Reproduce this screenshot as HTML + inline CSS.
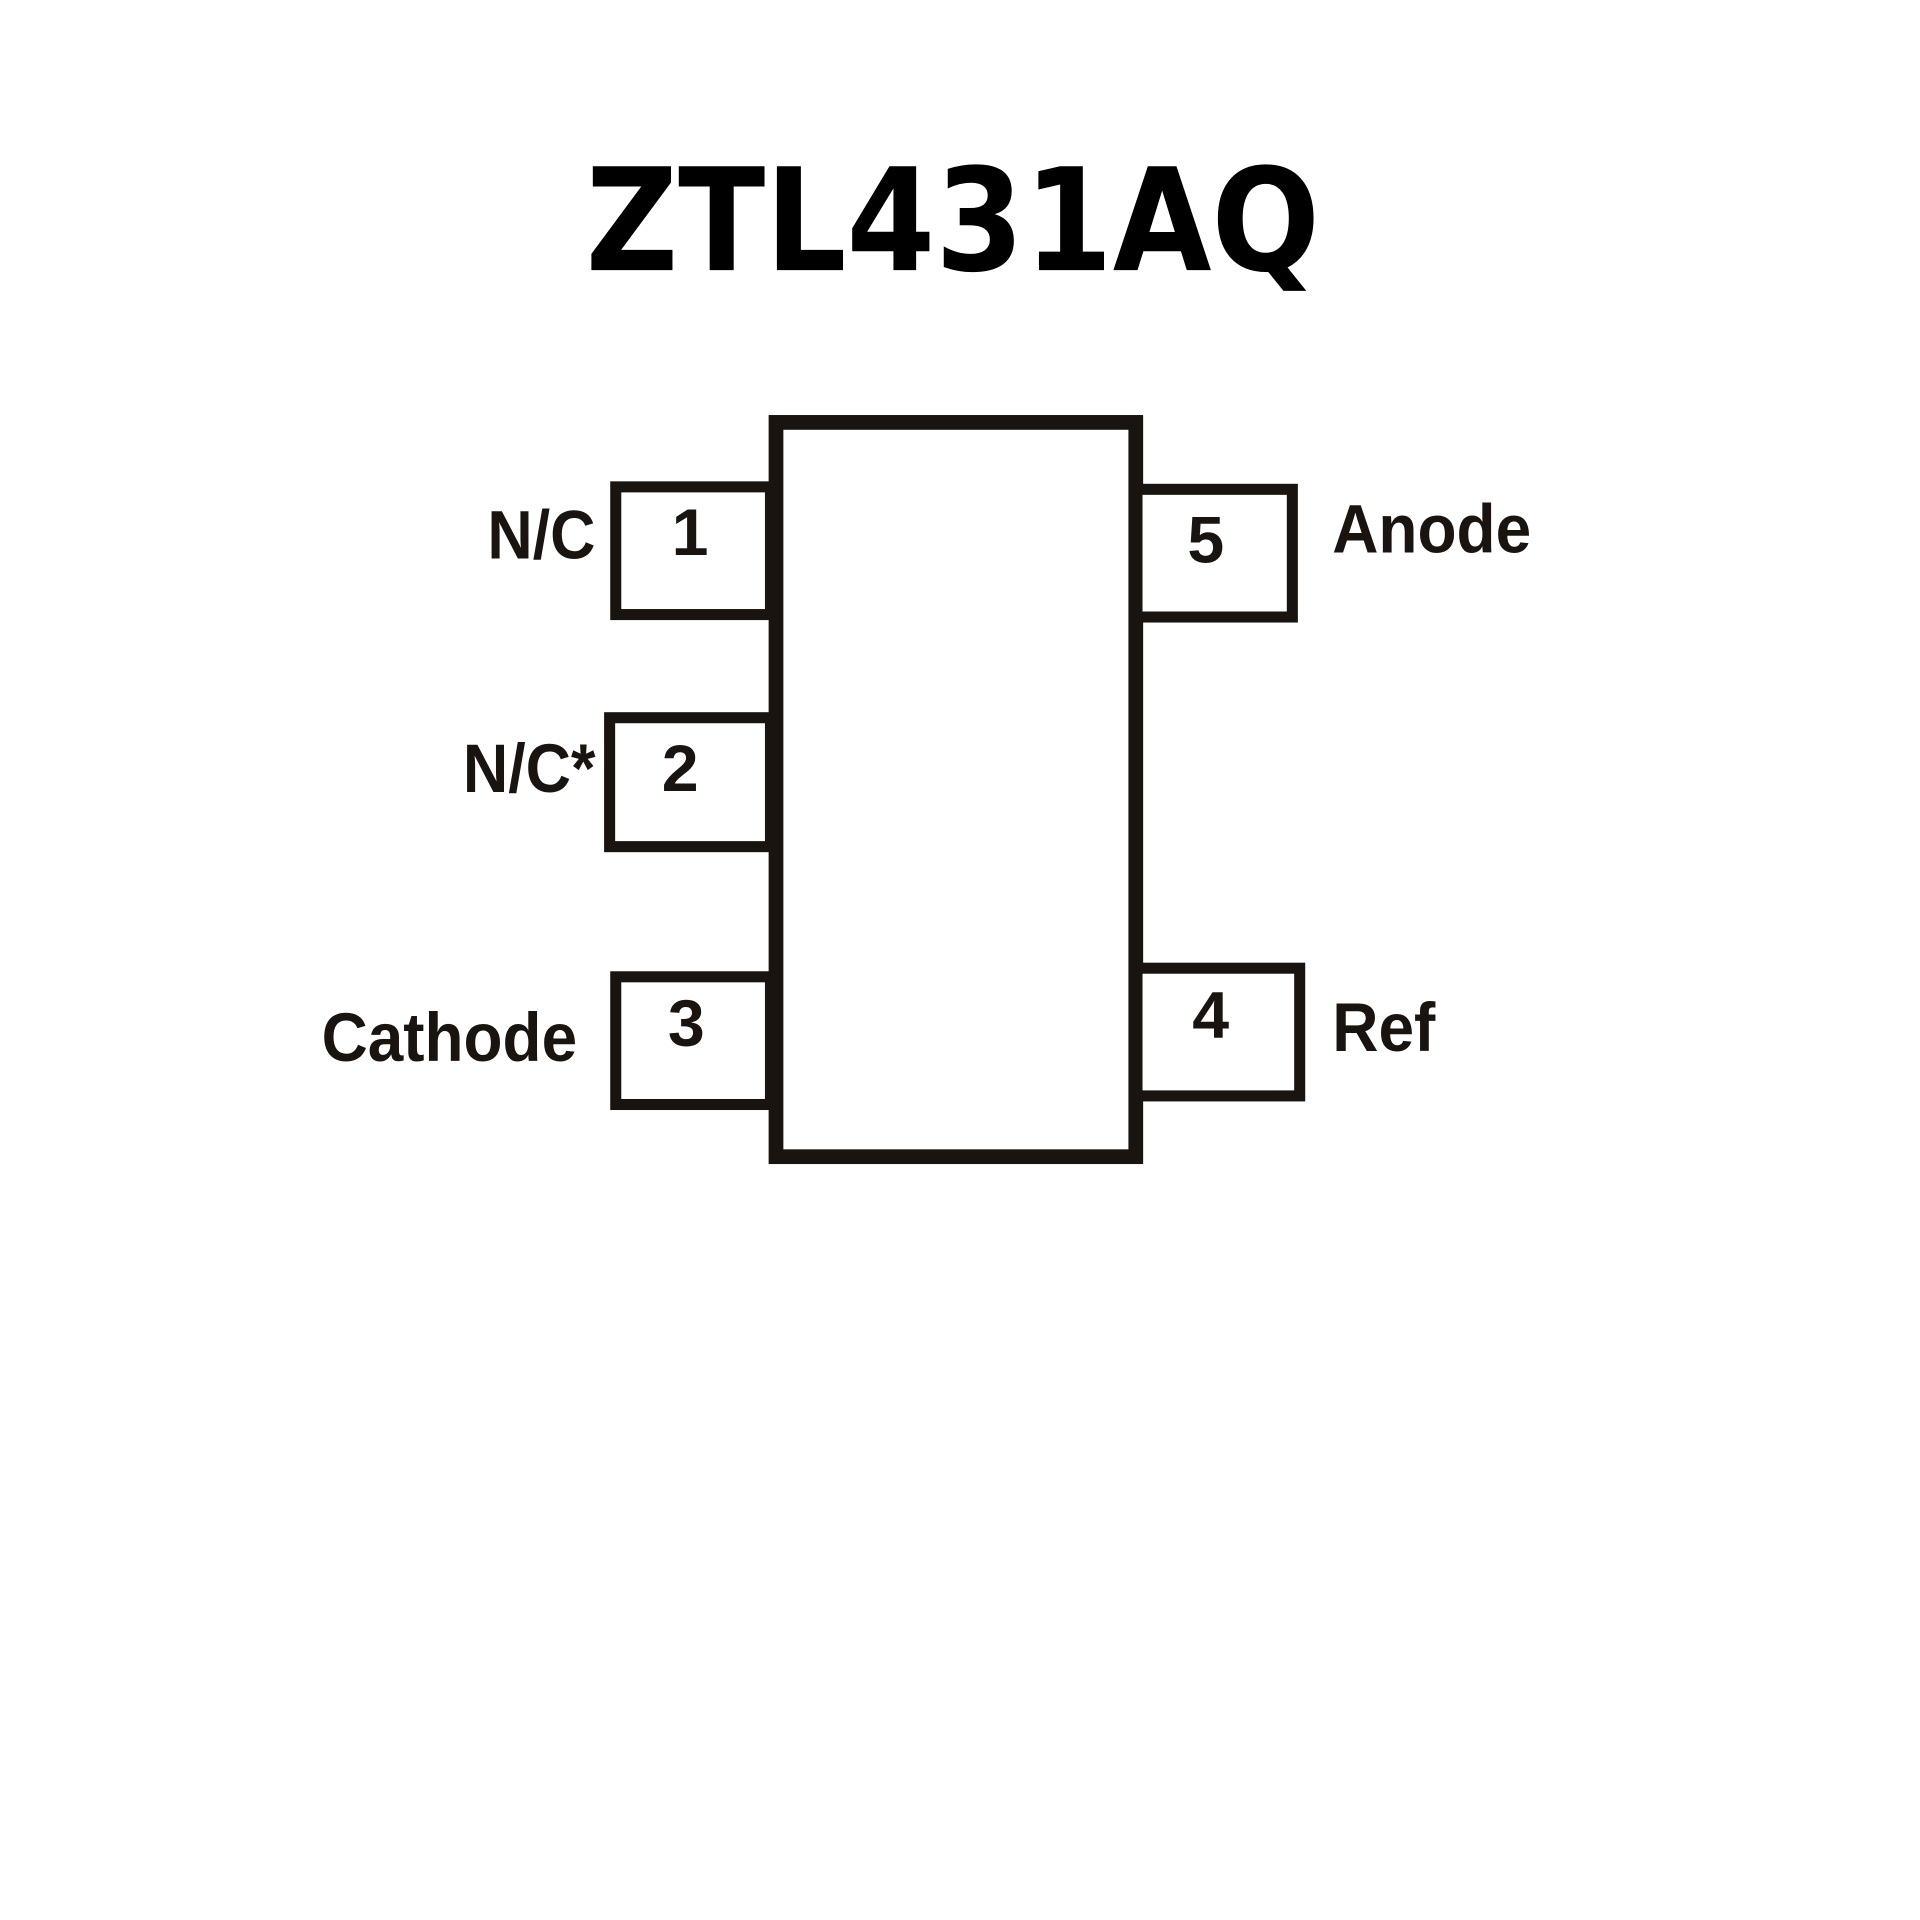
<!DOCTYPE html>
<html><head><style>html,body{margin:0;padding:0;background:#fff}svg{display:block}</style></head>
<body>
<svg width="1920" height="1920" viewBox="0 0 1548 1548" xmlns="http://www.w3.org/2000/svg">
<rect width="1548" height="1548" fill="#fff"/>
<g transform="translate(-3,0) scale(0.99)">
<text x="480" y="220" font-family="DejaVu Sans, Liberation Sans, sans-serif" font-weight="bold" font-size="116" textLength="598" lengthAdjust="spacingAndGlyphs" fill="#000">ZTL431AQ</text>
<g fill="#fff" stroke="#1a1410">
<rect x="635" y="344" width="293" height="598" stroke-width="12"/>
<rect x="504.5" y="396.5" width="126" height="104" stroke-width="9"/>
<rect x="499.5" y="584.5" width="131" height="105" stroke-width="9"/>
<rect x="504.5" y="795.5" width="126" height="104" stroke-width="9"/>
<rect x="929" y="398.5" width="126.5" height="104" stroke-width="9"/>
<rect x="929" y="788.5" width="132.5" height="104" stroke-width="9"/>
</g>
<g font-family="Liberation Sans, Arial, sans-serif" font-weight="bold" fill="#1a1410" font-size="56">
<text x="400" y="455" textLength="88" lengthAdjust="spacingAndGlyphs">N/C</text>
<text x="380" y="645" textLength="108" lengthAdjust="spacingAndGlyphs">N/C*</text>
<text x="265" y="864" textLength="208" lengthAdjust="spacingAndGlyphs">Cathode</text>
<text x="1088" y="450" textLength="162" lengthAdjust="spacingAndGlyphs">Anode</text>
<text x="1088" y="856" textLength="84" lengthAdjust="spacingAndGlyphs">Ref</text>
<g font-size="54">
<text x="565" y="452" text-anchor="middle">1</text>
<text x="557" y="644" text-anchor="middle">2</text>
<text x="562" y="852" text-anchor="middle">3</text>
<text x="985" y="458" text-anchor="middle">5</text>
<text x="989" y="845" text-anchor="middle">4</text>
</g>
</g>
</g>
</svg>
</body></html>
